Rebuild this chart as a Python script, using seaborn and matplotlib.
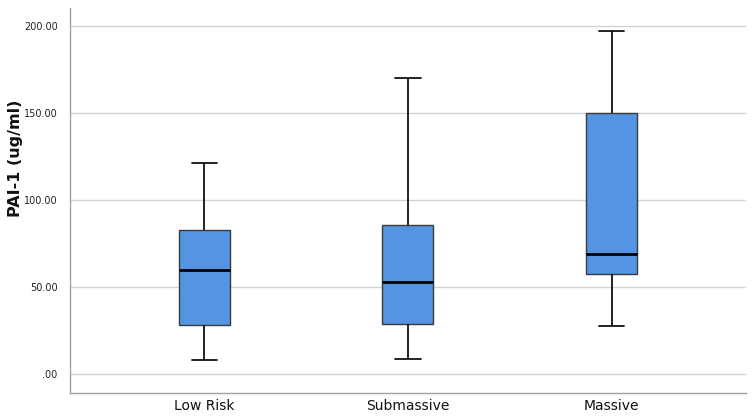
import matplotlib
matplotlib.use("Agg")
import matplotlib.pyplot as plt
import pandas as pd
import seaborn as sns
from matplotlib.ticker import FuncFormatter

# five-number summaries: min, Q1, median, Q3, max
groups = ["Low Risk", "Submassive", "Massive"]
low_risk = [8.0, 27.8, 59.8, 82.4, 121.3]
submassive = [8.4, 28.7, 52.9, 85.6, 170.1]
massive = [27.2, 57.3, 68.8, 149.8, 197.1]
y_ticks = [0, 50, 100, 150, 200]

df = pd.DataFrame({
    "group": [g for g, vals in zip(groups, [low_risk, submassive, massive]) for _ in vals],
    "pai1": low_risk + submassive + massive,
})

sns.set_theme(style="white")
plt.rcParams["font.family"] = ["DejaVu Sans"]

fig = plt.figure(figsize=(7.56, 4.17), dpi=100)
ax = fig.add_axes([0.0926, 0.0576, 0.894, 0.923])

ax.yaxis.grid(True, color="#d2d2d2", linewidth=1.0)
ax.set_axisbelow(True)

sns.boxplot(
    data=df, x="group", y="pai1", order=groups, ax=ax,
    whis=(0, 100), width=0.25, color="#5594e2", saturation=1,
    boxprops=dict(edgecolor="#3a3a3a", linewidth=1.0),
    medianprops=dict(color="black", linewidth=2.0),
    whiskerprops=dict(color="#111111", linewidth=1.3),
    capprops=dict(color="#111111", linewidth=1.3),
    showfliers=False,
)

ax.set_xlim(-0.66, 2.66)
ax.set_ylim(-11, 210)
ax.set_yticks(y_ticks)
ax.yaxis.set_major_formatter(FuncFormatter(lambda v, p: ".00" if v == 0 else f"{v:.2f}"))
ax.tick_params(axis="y", length=0, pad=9, labelsize=7, labelcolor="#222222")
ax.tick_params(axis="x", length=0, pad=4, labelsize=10, labelcolor="#111111")

ax.set_xlabel("")
ax.set_ylabel("PAI-1 (ug/ml)", fontsize=11.5, fontweight="bold", color="#111111")
ax.yaxis.set_label_coords(-0.0695, 0.61)

for side in ["top", "right"]:
    ax.spines[side].set_visible(False)
for side in ["left", "bottom"]:
    ax.spines[side].set_color("#a0a0a0")
    ax.spines[side].set_linewidth(1.0)

fig.savefig("out.png", dpi=100)
